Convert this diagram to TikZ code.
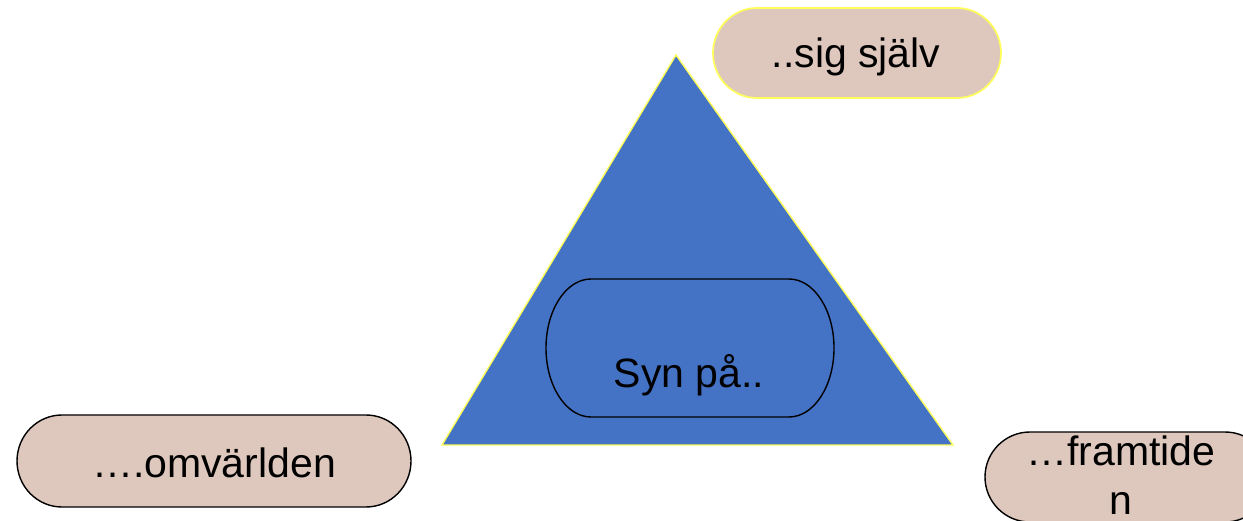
\documentclass[tikz,border=0pt]{standalone}
\usepackage{fontspec}
\setmainfont{Liberation Sans}
\definecolor{triblue}{RGB}{68,114,196}
\definecolor{pillfill}{RGB}{222,200,189}
\definecolor{edgeyellow}{RGB}{255,255,90}
\tikzset{
  pill/.style={fill=pillfill, draw=black, line width=1.4pt},
  pillyellow/.style={fill=pillfill, draw=edgeyellow, line width=1.7pt},
  inner/.style={draw=black, line width=1.4pt},
  tri/.style={fill=triblue, draw=edgeyellow, line width=1.4pt, line join=miter},
  lbl/.style={font=\fontsize{41}{49}\selectfont, text=black, inner sep=0pt, anchor=base}
}
\begin{document}
\begin{tikzpicture}[x=1pt,y=1pt]
\clip (0,0) rectangle (1243,520);
% triangle
\coordinate (apex) at (676,465);
\coordinate (bl) at (442,75);
\coordinate (br) at (953,75);
\path[tri] (apex) -- (bl) -- (br) -- cycle;
% Syn på box
\path[inner] (591,241) -- (789,241) arc[start angle=90,end angle=-90,x radius=45,y radius=69]
  -- (591,103) arc[start angle=270,end angle=90,x radius=45,y radius=69] -- cycle;
\node[lbl] (syn) at (689,132) {Syn på..};
% ..sig själv
\path[pillyellow] (757,512) -- (957,512) arc[start angle=90,end angle=-90,x radius=44,y radius=45]
  -- (757,422) arc[start angle=270,end angle=90,x radius=44,y radius=45] -- cycle;
\node[lbl] (sig) at (856,452) {..sig själv};
% ....omvärlden
\path[pill] (62,105) -- (366,105) arc[start angle=90,end angle=-90,x radius=45,y radius=46]
  -- (62,13) arc[start angle=270,end angle=90,x radius=45,y radius=46] -- cycle;
\node[lbl] (omv) at (214,43) {….omvärlden};
% ...framtiden
\path[pill] (1030,88) -- (1225,88) arc[start angle=90,end angle=-90,x radius=45,y radius=45]
  -- (1030,-2) arc[start angle=270,end angle=90,x radius=45,y radius=45] -- cycle;
\node[lbl] (fr1) at (1121,55) {…framtide};
\node[lbl] (fr2) at (1121,6) {n};
\end{tikzpicture}
\end{document}
